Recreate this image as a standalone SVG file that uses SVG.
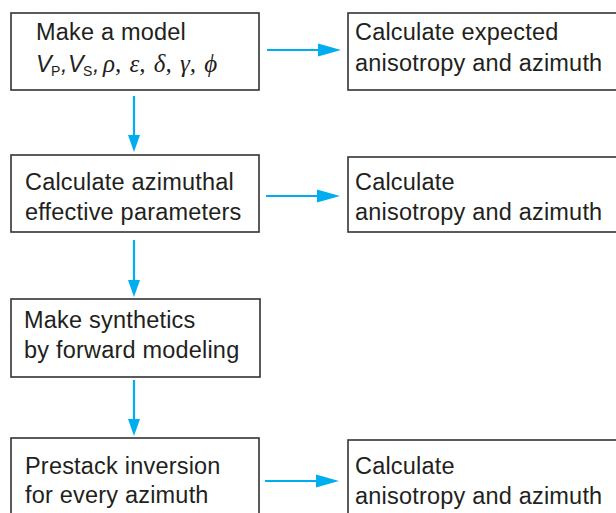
<svg xmlns="http://www.w3.org/2000/svg" width="616" height="513" viewBox="0 0 616 513">
<defs>
<style>
.box{fill:#fff;stroke:#333;stroke-width:1.6}
.t{font-family:"Liberation Sans",Arial,sans-serif;font-size:23.5px;fill:#231f20;letter-spacing:0.2px}
.g{font-family:"Liberation Serif","Times New Roman",serif;font-style:italic;font-size:25px;fill:#231f20;word-spacing:2px}
.vi{font-family:"Liberation Sans",Arial,sans-serif;font-style:italic;font-size:23.5px;fill:#231f20}
.sub{font-family:"Liberation Sans",Arial,sans-serif;font-size:14px;fill:#231f20}
.c{stroke:#00aeef;stroke-width:2.2;fill:none}
.h{fill:#00aeef}
</style>
</defs>
<rect width="616" height="513" fill="#fff"/>
<g id="connectors">
<line class="c" x1="134" y1="96" x2="134" y2="136"/>
<polygon class="h" points="128,135 140,135 134,152"/>
<line class="c" x1="134" y1="240" x2="134" y2="281"/>
<polygon class="h" points="128,280 140,280 134,297"/>
<line class="c" x1="134" y1="380" x2="134" y2="420"/>
<polygon class="h" points="128,419 140,419 134,436"/>
<line class="c" x1="267" y1="50" x2="320" y2="50"/>
<polygon class="h" points="318,43.5 318,56.5 341,50"/>
<line class="c" x1="266" y1="196" x2="319" y2="196"/>
<polygon class="h" points="317,189.5 317,202.5 340,196"/>
<line class="c" x1="265" y1="481" x2="318" y2="481"/>
<polygon class="h" points="316,474.5 316,487.5 339,481"/>
</g>
<g id="n1">
<rect class="box" x="11" y="13" width="248" height="77"/>
<text class="t" x="36" y="40">Make a model</text>
<text x="36" y="72"><tspan class="vi">V</tspan><tspan class="sub" x="51" y="76">P</tspan><tspan class="vi" x="61" y="72">,</tspan><tspan class="vi" x="68">V</tspan><tspan class="sub" x="83" y="76">S</tspan><tspan class="vi" x="93" y="72">,</tspan><tspan class="g" x="103" xml:space="preserve">ρ, ε, δ, γ, ϕ</tspan></text>
</g>
<g id="n2">
<rect class="box" x="348" y="13" width="275" height="77"/>
<text class="t" x="355" y="40">Calculate expected</text>
<text class="t" x="355" y="71">anisotropy and azimuth</text>
</g>
<g id="n3">
<rect class="box" x="11" y="155" width="248" height="77"/>
<text class="t" x="25" y="190">Calculate azimuthal</text>
<text class="t" x="25" y="220">effective parameters</text>
</g>
<g id="n4">
<rect class="box" x="348" y="157" width="275" height="75"/>
<text class="t" x="355" y="190">Calculate</text>
<text class="t" x="355" y="220">anisotropy and azimuth</text>
</g>
<g id="n5">
<rect class="box" x="11" y="299" width="249" height="78"/>
<text class="t" x="24" y="328">Make synthetics</text>
<text class="t" x="24" y="358">by forward modeling</text>
</g>
<g id="n6">
<rect class="box" x="11" y="438" width="248" height="85"/>
<text class="t" x="25" y="474">Prestack inversion</text>
<text class="t" x="25" y="503">for every azimuth</text>
</g>
<g id="n7">
<rect class="box" x="348" y="440" width="275" height="85"/>
<text class="t" x="355" y="474">Calculate</text>
<text class="t" x="355" y="504">anisotropy and azimuth</text>
</g>
</svg>
